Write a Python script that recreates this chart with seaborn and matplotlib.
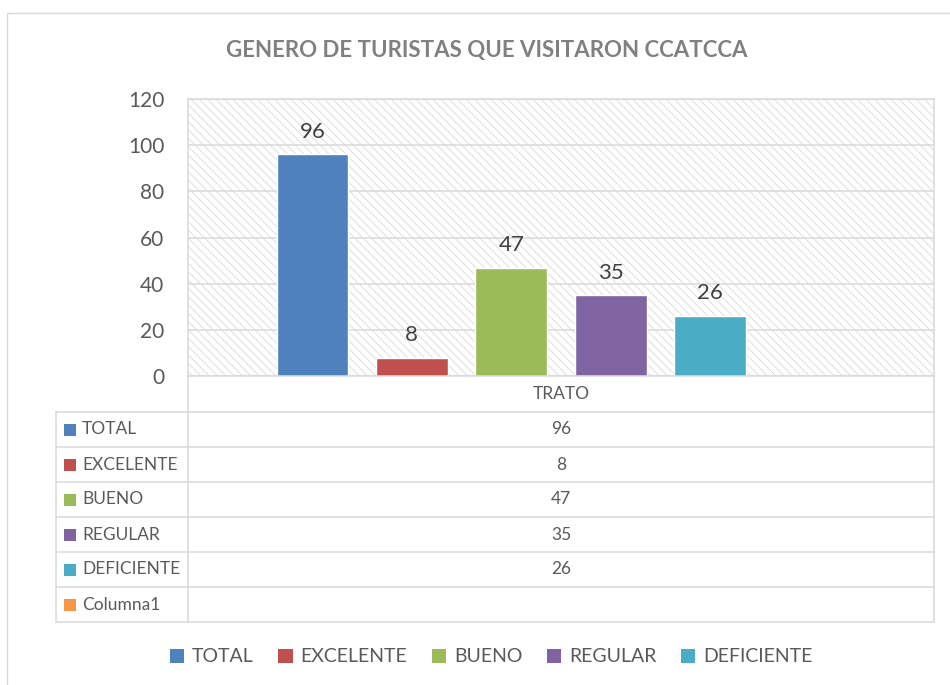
import numpy as np
import pandas as pd
import matplotlib.pyplot as plt
import seaborn as sns
from matplotlib.patches import Rectangle, Patch
from matplotlib.lines import Line2D

series = ['TOTAL', 'EXCELENTE', 'BUENO', 'REGULAR', 'DEFICIENTE', 'Columna1']
values = [96, 8, 47, 35, 26, np.nan]
colors = ['#4F81BD', '#C0504D', '#9BBB59', '#8064A2', '#4BACC6', '#F79646']
category = 'TRATO'
title = 'GENERO DE TURISTAS QUE VISITARON CCATCCA'

df = pd.DataFrame({'categoria': [category] * len(series), 'serie': series, 'valor': values})

sns.set_theme(style='white')
plt.rcParams['font.family'] = ['Lato', 'DejaVu Sans']
plt.rcParams['hatch.color'] = '#d9d9d9'
plt.rcParams['hatch.linewidth'] = 0.6

W, H = 950, 685
fig = plt.figure(figsize=(W / 100, H / 100), dpi=100)

def fx(x):
    return x / W

def fy(y):
    return 1 - y / H

grid_c = '#d9d9d9'
text_c = '#595959'

# marco exterior
fig.add_artist(Rectangle((fx(7), fy(700)), fx(960) - fx(7), fy(13) - fy(700),
                         transform=fig.transFigure, fill=False, edgecolor=grid_c, lw=1))

L, R, T, B = 188, 934, 99, 376
ax = fig.add_axes([fx(L), fy(B), fx(R) - fx(L), fy(T) - fy(B)])
ax.add_patch(Rectangle((0, 0), 1, 1, transform=ax.transAxes, facecolor='none',
                       edgecolor='#d9d9d9', hatch='\\\\\\\\', lw=0, zorder=0.1))

sns.barplot(data=df, x='categoria', y='valor', hue='serie', hue_order=series,
            palette=colors, errorbar=None, width=0.8, gap=0.28, saturation=1,
            legend=False, ax=ax)

for c in ax.containers:
    if np.isnan(c.datavalues).all():
        continue
    ax.bar_label(c, fmt='%g', fontsize=16, color='#404040', padding=9)

ax.set_ylim(0, 120)
ax.set_xlim(-0.5, 0.5)
ax.set_yticks(range(0, 121, 20))
ax.yaxis.grid(True, color=grid_c, lw=1.1)
ax.set_axisbelow(True)
ax.set_xticks([])
ax.set_xlabel('')
ax.set_ylabel('')
ax.tick_params(axis='y', length=0, pad=17, labelsize=15, labelcolor=text_c)
for s in ax.spines.values():
    s.set_color(grid_c)
    s.set_linewidth(1.1)

# tabla de datos
rows = [412, 447, 482, 517, 552, 587, 622]
TL = 56
def hline(y, x0, x1):
    fig.add_artist(Line2D([fx(x0), fx(x1)], [fy(y), fy(y)], transform=fig.transFigure,
                          color=grid_c, lw=1.1))
def vline(x, y0, y1):
    fig.add_artist(Line2D([fx(x), fx(x)], [fy(y0), fy(y1)], transform=fig.transFigure,
                          color=grid_c, lw=1.1))

for y in rows:
    hline(y, TL, R)
vline(L, B, rows[-1])
vline(R, B, rows[-1])
vline(TL, rows[0], rows[-1])

cx = (L + R) / 2
fig.text(fx(cx), fy((B + rows[0]) / 2), category, ha='center', va='center',
         fontsize=12.5, color=text_c)
for i, (name, val, col) in enumerate(zip(series, values, colors)):
    yc = (rows[i] + rows[i + 1]) / 2
    fig.add_artist(Rectangle((fx(64), fy(yc + 6)), fx(12), 12 / H,
                             transform=fig.transFigure, facecolor=col, edgecolor='none'))
    fig.text(fx(82), fy(yc), name, ha='left', va='center', fontsize=12.5, color=text_c)
    if not np.isnan(val):
        fig.text(fx(cx), fy(yc), f'{val:g}', ha='center', va='center',
                 fontsize=12.5, color=text_c)

handles = [Patch(facecolor=c, edgecolor='none') for c in colors[:5]]
fig.legend(handles, series[:5], loc='center', bbox_to_anchor=(fx(491), fy(657)),
           ncol=5, frameon=False, fontsize=14, handlelength=0.75, handleheight=0.75,
           handletextpad=0.4, columnspacing=1.25, labelcolor=text_c)

fig.text(fx(487), fy(50), title, ha='center', va='center', fontsize=16,
         fontweight='bold', color='#808080')

fig.savefig('out.png', dpi=100)
